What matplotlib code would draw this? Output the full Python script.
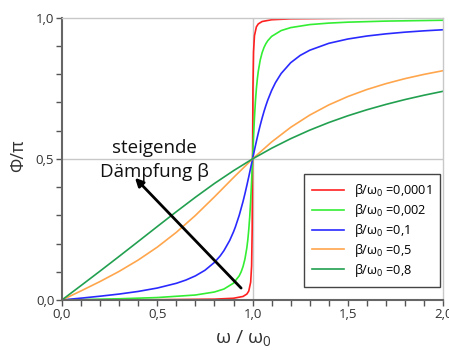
import matplotlib.pyplot as plt

plt.rcParams['font.family'] = ['Open Sans', 'DejaVu Sans']
plt.rcParams['mathtext.fontset'] = 'custom'
plt.rcParams['mathtext.rm'] = 'Open Sans'
plt.rcParams['mathtext.it'] = 'Open Sans'
plt.rcParams['mathtext.default'] = 'regular'

# values (phase / pi against omega / omega_0)
x_red = [0.0, 0.5, 0.8, 0.9, 0.95, 0.97, 0.98, 0.99, 0.995, 0.998, 1.0,
         1.002, 1.005, 1.01, 1.02, 1.03, 1.05, 1.1, 1.2, 1.5, 2.0]
y_red = [0.0, 0.0009, 0.0028, 0.006, 0.0124, 0.0209, 0.0314, 0.0625, 0.1208, 0.2498, 0.5,
         0.7498, 0.8786, 0.9369, 0.968, 0.9785, 0.987, 0.9933, 0.9965, 0.9985, 0.9992]

x_green = [0.0, 0.3, 0.5, 0.7, 0.8, 0.85, 0.9, 0.93, 0.94, 0.95, 0.96, 0.97, 0.975, 0.98, 0.985, 0.99, 0.995, 1.0,
           1.005, 1.01, 1.015, 1.02, 1.025, 1.03, 1.04, 1.05, 1.06, 1.07, 1.08, 1.1, 1.15, 1.2, 1.3, 1.4, 1.5, 1.7, 2.0]
y_green = [0.0, 0.0042, 0.0085, 0.0175, 0.0282, 0.0388, 0.0596, 0.0855, 0.0994, 0.1183, 0.1451, 0.185, 0.2128, 0.2484, 0.294, 0.3518, 0.422, 0.5,
           0.5778, 0.6468, 0.7037, 0.7484, 0.7833, 0.8107, 0.8499, 0.8762, 0.8949, 0.9086, 0.9191, 0.9343, 0.9549, 0.9654, 0.9761, 0.9814, 0.9847, 0.9885, 0.9915]

x_blue = [0.0, 0.1, 0.2, 0.3, 0.4, 0.5, 0.6, 0.65, 0.7, 0.75, 0.8, 0.83, 0.85, 0.88, 0.9, 0.91, 0.93, 0.95, 0.96, 0.97, 0.98, 0.99, 1.0,
          1.01, 1.02, 1.03, 1.04, 1.05, 1.06, 1.07, 1.08, 1.1, 1.12, 1.15, 1.2, 1.25, 1.3, 1.4, 1.5, 1.6, 1.7, 1.8, 1.9, 2.0]
y_blue = [0.0, 0.0064, 0.0133, 0.0209, 0.0302, 0.0422, 0.059, 0.0705, 0.0853, 0.1051, 0.1331, 0.156, 0.175, 0.2109, 0.2414, 0.2591, 0.3, 0.349, 0.3766, 0.4059, 0.4365, 0.4681, 0.5,
          0.5316, 0.5622, 0.5915, 0.619, 0.6444, 0.668, 0.6894, 0.7089, 0.7426, 0.7702, 0.8027, 0.841, 0.8669, 0.8852, 0.9097, 0.925, 0.9356, 0.9433, 0.9493, 0.954, 0.9578]

x_step = [0.0, 0.1, 0.2, 0.3, 0.4, 0.5, 0.6, 0.7, 0.8, 0.9, 1.0,
          1.1, 1.2, 1.3, 1.4, 1.5, 1.6, 1.7, 1.8, 1.9, 2.0]
y_orange = [0.0, 0.0321, 0.0654, 0.1013, 0.1415, 0.1872, 0.2397, 0.2995, 0.3654, 0.4338, 0.5,
            0.56, 0.6119, 0.6553, 0.6914, 0.7211, 0.746, 0.7668, 0.7846, 0.7997, 0.8128]
y_dkgreen = [0.0, 0.051, 0.1024, 0.1545, 0.2072, 0.2602, 0.3128, 0.364, 0.4129, 0.4582, 0.5,
             0.5378, 0.5717, 0.602, 0.6289, 0.6529, 0.6742, 0.6932, 0.7104, 0.7258, 0.7398]

labels = ['β/ω$_0$ =0,0001', 'β/ω$_0$ =0,002', 'β/ω$_0$ =0,1', 'β/ω$_0$ =0,5', 'β/ω$_0$ =0,8']
colors = ['#ff2020', '#33ee33', '#2a2aff', '#ffa64d', '#22a050']

x_major = [0.0, 0.5, 1.0, 1.5, 2.0]
x_major_lab = ['0,0', '0,5', '1,0', '1,5', '2,0']
y_major = [0.0, 0.5, 1.0]
y_major_lab = ['0,0', '0,5', '1,0']

fig = plt.figure(figsize=(4.49, 3.5), dpi=100)
ax = fig.add_axes([0.138, 0.143, 0.849, 0.806])

ax.axhline(0.5, color='#c8c8c8', lw=1, zorder=0)
ax.axvline(1.0, color='#c8c8c8', lw=1, zorder=0)

series = [(x_red, y_red), (x_green, y_green), (x_blue, y_blue),
          (x_step, y_orange), (x_step, y_dkgreen)]
for (xs, ys), c, lab in zip(series, colors, labels):
    ax.plot(xs, ys, color=c, lw=1.2, label=lab)

ax.set_xlim(0, 2)
ax.set_ylim(0, 1)
ax.set_xticks(x_major)
ax.set_xticklabels(x_major_lab)
ax.set_xticks([i / 10 for i in range(21)], minor=True)
ax.set_yticks(y_major)
ax.set_yticklabels(y_major_lab)
ax.set_yticks([i / 10 for i in range(11)], minor=True)
ax.tick_params(which='both', direction='out', length=4, width=1, color='#555555',
               labelsize=9.5, labelcolor='#333333', pad=1.5)

for s in ['left', 'bottom']:
    ax.spines[s].set_color('#666666')
    ax.spines[s].set_linewidth(1.5)
for s in ['top', 'right']:
    ax.spines[s].set_color('#c8c8c8')
    ax.spines[s].set_linewidth(1)

fig.text(243 / 449, 0.035, 'ω / ω$_0$', fontsize=14, color='#333333', ha='center', va='center')
fig.text(18 / 449, 1 - 156 / 350, 'Φ/π', fontsize=13, color='#333333', ha='center', va='center',
         rotation=90)

leg = ax.legend(loc='lower right', bbox_to_anchor=(0.992, 0.046), fontsize=9.2,
                frameon=True, fancybox=False, handlelength=2.5, labelspacing=0.22,
                borderpad=0.65, handletextpad=0.8, borderaxespad=0)
leg.get_frame().set_edgecolor('#444444')
leg.get_frame().set_linewidth(1)
leg.get_frame().set_alpha(1)

ax.annotate('', xy=(0.373, 0.44), xytext=(0.95, 0.035),
            arrowprops=dict(arrowstyle='-|>', color='black', lw=2, mutation_scale=12))
ax.text(0.483, 0.539, 'steigende', ha='center', va='center', fontsize=13.5, color='#111111')
ax.text(0.486, 0.454, 'Dämpfung β', ha='center', va='center', fontsize=13.5, color='#111111')

fig.savefig('out.png', dpi=100)
